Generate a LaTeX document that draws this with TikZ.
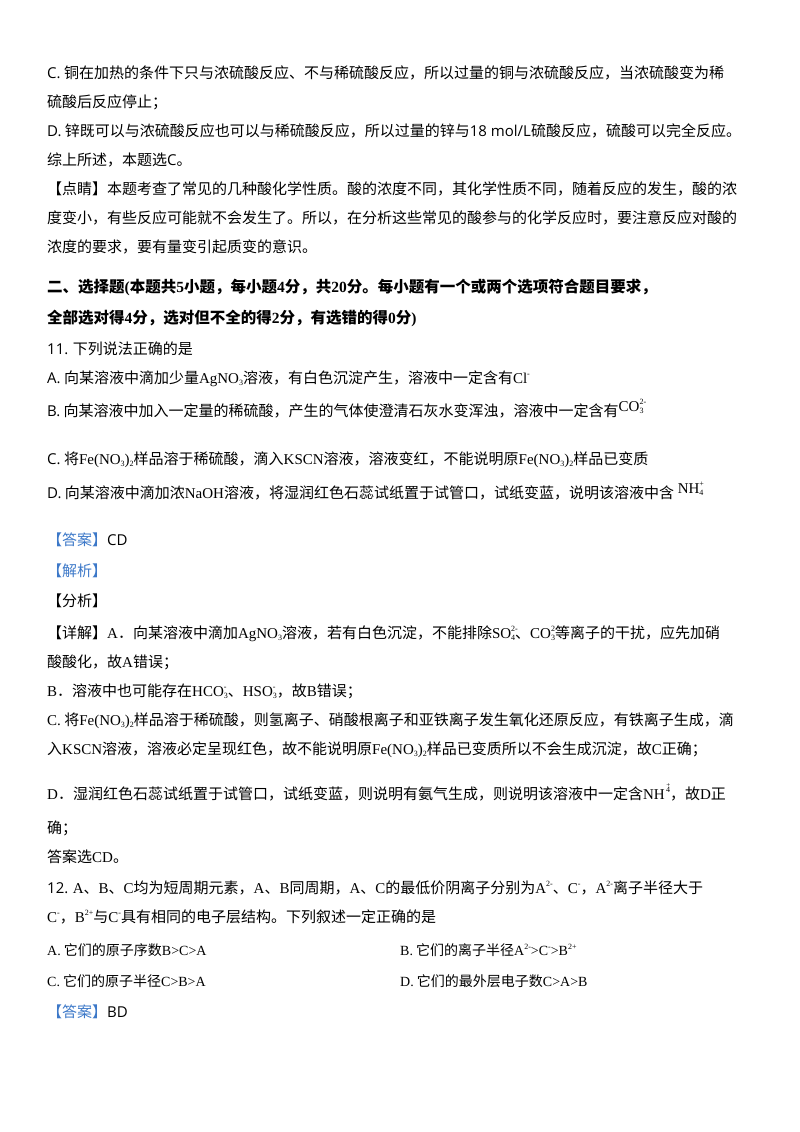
\documentclass[tikz,border=0pt]{standalone}
\usepackage{fontspec}
\setmainfont{Noto Sans CJK SC}
\newfontfamily\tm{Liberation Serif}
\newfontfamily\lat{Open Sans}
\definecolor{hb}{RGB}{60,120,200}
\newcommand{\sbx}[1]{\raisebox{-0.35ex}{\fontsize{8}{8}\selectfont #1}}
\newcommand{\spx}[1]{\raisebox{0.9ex}{\fontsize{8}{8}\selectfont #1}}
\newcommand{\ion}[2]{\makebox[0pt][l]{\spx{#2}}\sbx{#1}}
\begin{document}
\begin{tikzpicture}[x=1pt,y=-1pt,
 ln/.style={anchor=base west,inner sep=0pt,font=\fontsize{15}{18}\selectfont}]
\useasboundingbox (0,0) rectangle (800,1132);
\node[ln] (l1) at (47,78) {{\lat C.} 铜在加热的条件下只与浓硫酸反应、不与稀硫酸反应，所以过量的铜与浓硫酸反应，当浓硫酸变为稀};
\node[ln] (l2) at (47,107) {硫酸后反应停止；};
\node[ln] (l3) at (47,136) {{\lat D.} 锌既可以与浓硫酸反应也可以与稀硫酸反应，所以过量的锌与{\lat 18 mol/L}硫酸反应，硫酸可以完全反应。};
\node[ln] (l4) at (47,165) {综上所述，本题选{\lat C}。};
\node[ln] (l5) at (47,194) {【点睛】本题考查了常见的几种酸化学性质。酸的浓度不同，其化学性质不同，随着反应的发生，酸的浓};
\node[ln] (l6) at (47,223) {度变小，有些反应可能就不会发生了。所以，在分析这些常见的酸参与的化学反应时，要注意反应对酸的};
\node[ln] (l7) at (47,252) {浓度的要求，要有量变引起质变的意识。};
\node[ln,font=\fontsize{15.5}{18}\selectfont\bfseries] (l8) at (47,292) {二、选择题{\tm\bfseries (}本题共{\tm\bfseries 5}小题，每小题{\tm\bfseries 4}分，共{\tm\bfseries 20}分。每小题有一个或两个选项符合题目要求，};
\node[ln,font=\fontsize{15.5}{18}\selectfont\bfseries] (l9) at (47,323) {全部选对得{\tm\bfseries 4}分，选对但不全的得{\tm\bfseries 2}分，有选错的得{\tm\bfseries 0}分{\tm\bfseries )}};
\node[ln] (q11) at (47,354) {{\lat 11.} 下列说法正确的是};
\node[ln] (qa) at (47,383) {{\lat A.} 向某溶液中滴加少量{\tm AgNO\sbx{3}}溶液，有白色沉淀产生，溶液中一定含有{\tm Cl\spx{-}}};
\node[ln] (qb) at (47,416) {{\lat B.} 向某溶液中加入一定量的稀硫酸，产生的气体使澄清石灰水变浑浊，溶液中一定含有\raisebox{0.6ex}{\tm CO\ion{3}{2-}}};
\node[ln] (qc) at (47,464) {{\lat C.} 将{\tm Fe(NO\sbx{3})\sbx{2}}样品溶于稀硫酸，滴入{\tm KSCN}溶液，溶液变红，不能说明原{\tm Fe(NO\sbx{3})\sbx{2}}样品已变质};
\node[ln] (qd) at (47,498) {{\lat D.} 向某溶液中滴加浓{\tm NaOH}溶液，将湿润红色石蕊试纸置于试管口，试纸变蓝，说明该溶液中含\raisebox{0.6ex}{\tm\ NH\ion{4}{+}}};
\node[ln] (an) at (47,545) {\textcolor{hb}{【答案】}{\lat CD}};
\node[ln] (jx) at (47,576) {\textcolor{hb}{【解析】}};
\node[ln] (fx) at (47,606) {【分析】};
\node[ln] (x1) at (47,638) {【详解】{\tm A}．向某溶液中滴加{\tm AgNO\sbx{3}}溶液，若有白色沉淀，不能排除{\tm SO\ion{4}{2-}}、{\tm CO\ion{3}{2-}}等离子的干扰，应先加硝};
\node[ln] (x2) at (47,667) {酸酸化，故{\tm A}错误；};
\node[ln] (x3) at (47,696) {{\tm B}．溶液中也可能存在{\tm HCO\ion{3}{-}}、{\tm HSO\ion{3}{-}}，故{\tm B}错误；};
\node[ln] (x4) at (47,725) {{\tm C.} 将{\tm Fe(NO\sbx{3})\sbx{2}}样品溶于稀硫酸，则氢离子、硝酸根离子和亚铁离子发生氧化还原反应，有铁离子生成，滴};
\node[ln] (x5) at (47,754) {入{\tm KSCN}溶液，溶液必定呈现红色，故不能说明原{\tm Fe(NO\sbx{3})\sbx{2}}样品已变质所以不会生成沉淀，故{\tm C}正确；};
\node[ln] (x6) at (47,799) {{\tm D}．湿润红色石蕊试纸置于试管口，试纸变蓝，则说明有氨气生成，则说明该溶液中一定含{\tm NH\makebox[0pt][l]{\raisebox{1.6ex}{\fontsize{7}{7}\selectfont\ +}}\spx{\,4}}，故{\tm D}正};
\node[ln] (x7) at (47,833) {确；};
\node[ln] (x8) at (47,862) {答案选{\tm CD}。};
\node[ln] (q12) at (47,893) {{\lat 12.} {\tm A}、{\tm B}、{\tm C}均为短周期元素，{\tm A}、{\tm B}同周期，{\tm A}、{\tm C}的最低价阴离子分别为{\tm A\spx{2-}}、{\tm C\spx{-}}，{\tm A\spx{2-}}离子半径大于};
\node[ln] (q12b) at (47,922) {{\tm C\spx{-}}，{\tm B\spx{2+}}与{\tm C\spx{-}}具有相同的电子层结构。下列叙述一定正确的是};
\node[ln,font=\fontsize{14}{18}\selectfont] (oa) at (47,955) {{\tm A.}\ 它们的原子序数{\tm B>C>A}};
\node[ln,font=\fontsize{14}{18}\selectfont] (ob) at (400,955) {{\tm B.}\ 它们的离子半径{\tm A\spx{2-}>C\spx{-}>B\spx{2+}}};
\node[ln,font=\fontsize{14}{18}\selectfont] (oc) at (47,986) {{\tm C.}\ 它们的原子半径{\tm C>B>A}};
\node[ln,font=\fontsize{14}{18}\selectfont] (od) at (400,986) {{\tm D.}\ 它们的最外层电子数{\tm C>A>B}};
\node[ln] (an2) at (47,1017) {\textcolor{hb}{【答案】}{\lat BD}};
\end{tikzpicture}
\end{document}
